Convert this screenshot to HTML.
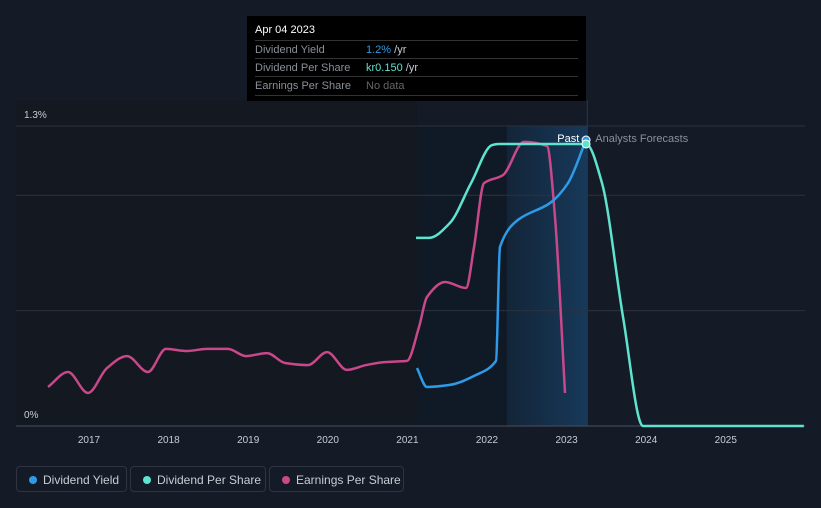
<!DOCTYPE html>
<html><head><meta charset="utf-8">
<style>
body{margin:0;background:#151b26;width:821px;height:508px;overflow:hidden;font-family:"Liberation Sans",sans-serif;}
#wrap{position:relative;width:821px;height:508px;}
svg{position:absolute;left:0;top:0;}
.tip{position:absolute;left:247px;top:16px;width:339px;height:85px;background:#000;font-size:11px;color:#8a8f98;}
.tip .row{position:absolute;left:8px;right:8px;border-top:1px solid #333;height:18px;line-height:18px;}
.legend{position:absolute;top:466px;height:26px;border:1px solid #2e3440;border-radius:4px;color:#c8ccd3;font-size:12px;line-height:26px;box-sizing:border-box;padding-left:26px;}
.legend i{position:absolute;left:12px;top:9px;width:8px;height:8px;border-radius:50%;}
</style></head><body>
<div id="wrap">
<svg id="chart" width="821" height="508"></svg>
<div class="tip">
 <div style="position:absolute;left:8px;top:8px;color:#fff;font-size:11px">Apr 04 2023</div>
 <div class="row" style="top:24px">Dividend Yield<span style="position:absolute;left:111px"><span style="color:#2d9be8">1.2%</span> <span style="color:#c8ccd3">/yr</span></span></div>
 <div class="row" style="top:42px">Dividend Per Share<span style="position:absolute;left:111px"><span style="color:#5ee3cf">kr0.150</span> <span style="color:#c8ccd3">/yr</span></span></div>
 <div class="row" style="top:60px;border-bottom:1px solid #333">Earnings Per Share<span style="position:absolute;left:111px;color:#666">No data</span></div>
</div>
<div class="legend" style="left:16px;width:111px"><i style="background:#2d9be8"></i>Dividend Yield</div>
<div class="legend" style="left:130px;width:136px"><i style="background:#5ee3cf"></i>Dividend Per Share</div>
<div class="legend" style="left:269px;width:135px"><i style="background:#c9488a"></i>Earnings Per Share</div>
</div>
<script>
const years=[2017,2018,2019,2020,2021,2022,2023,2024,2025];
const yTicks=[0,0.5,1.0,1.3];
const epsX=[2016.485,2016.736,2016.987,2017.226,2017.477,2017.741,2017.967,2018.231,2018.482,2018.746,2018.972,2019.236,2019.462,2019.751,2019.99,2020.241,2020.48,2020.719,2020.995,2021.146,2021.246,2021.472,2021.736,2021.837,2021.962,2022.201,2022.465,2022.754,2022.854,2022.98];
const epsY=[0.169,0.234,0.143,0.251,0.303,0.234,0.334,0.325,0.334,0.334,0.303,0.316,0.273,0.264,0.32,0.243,0.264,0.277,0.282,0.429,0.559,0.624,0.598,0.775,1.052,1.087,1.231,1.213,0.906,0.143];
const dpsX=[2021.108,2021.271,2021.535,2021.799,2022.063,2022.15,2023.244,2023.445,2023.709,2023.96,2025.98];
const dpsY=[0.815,0.815,0.88,1.052,1.217,1.222,1.222,1.052,0.472,0,0];
const dyX=[2021.12,2021.246,2021.535,2021.862,2022.113,2022.163,2022.389,2022.791,2023.017,2023.244];
const dyY=[0.251,0.169,0.178,0.221,0.282,0.776,0.893,0.966,1.052,1.239];
const NS='http://www.w3.org/2000/svg';
const svg=document.getElementById('chart');
const X=y=>89+(y-2017)*79.6;
const Y=v=>426-v*230.8;
function el(t,a){const e=document.createElementNS(NS,t);for(const k in a)e.setAttribute(k,a[k]);svg.appendChild(e);return e;}
function path(xs,ys){const p=xs.map((x,i)=>[X(x),Y(ys[i])]);const n=p.length;const m=[];const d=[];
for(let i=0;i<n-1;i++)d.push((p[i+1][1]-p[i][1])/(p[i+1][0]-p[i][0]));
for(let i=0;i<n;i++){if(i==0)m.push(d[0]);else if(i==n-1)m.push(d[n-2]);else m.push(d[i-1]*d[i]<=0?0:2/(1/d[i-1]+1/d[i]));}
let s='M'+p[0][0]+','+p[0][1];
for(let i=0;i<n-1;i++){const h=(p[i+1][0]-p[i][0])/3;s+=`C${p[i][0]+h},${p[i][1]+m[i]*h} ${p[i+1][0]-h},${p[i+1][1]-m[i+1]*h} ${p[i+1][0]},${p[i+1][1]}`;}
return s;}
let r=el('rect',{x:16,y:100,width:X(2021.12)-16,height:326,fill:'#131821'});

r=el('rect',{x:X(2021.12),y:126,width:X(2022.25)-X(2021.12),height:300,fill:'#101a27'});

const g=el('linearGradient',{id:'gr',x1:0,x2:1,y1:0,y2:0});
const defs=el('defs',{});defs.appendChild(g);
g.innerHTML='<stop offset="0" stop-color="#132538"/><stop offset="1" stop-color="#17395a"/>';
r=el('rect',{x:X(2022.25),y:126,width:X(2023.26)-X(2022.25),height:300,fill:'url(#gr)'});

let ln=el('line',{x1:X(2023.26),x2:X(2023.26),y1:100,y2:426,stroke:'#1e3a58','stroke-width':1});

yTicks.forEach(v=>{const l=el('line',{x1:16,x2:805,y1:Y(v),y2:Y(v),stroke:v==0?'#4a505c':'#2c323d','stroke-width':1});
});
[[0,'0%'],[1.3,'1.3%']].forEach(([v,t])=>{const e=el('text',{x:24,y:Y(v)-8,fill:'#c8ccd3','font-size':10});e.textContent=t;
});
years.forEach(yy=>{const e=el('text',{x:X(yy),y:443,fill:'#c8ccd3','font-size':10,'text-anchor':'middle'});e.textContent=yy;
});
let p=el('path',{d:path(epsX,epsY),stroke:'#c9488a','stroke-width':2.5,fill:'none'});

p=el('path',{d:path(dpsX,dpsY),stroke:'#5ee3cf','stroke-width':2.5,fill:'none'});

p=el('path',{d:path(dyX,dyY),stroke:'#2d9be8','stroke-width':2.5,fill:'none'});

let c=el('circle',{cx:X(dyX[dyX.length-1]),cy:Y(dyY[dyY.length-1]),r:4,fill:'#2d9be8',stroke:'#fff','stroke-width':1});

c=el('circle',{cx:X(2023.244),cy:Y(1.222),r:4,fill:'#5ee3cf',stroke:'#fff','stroke-width':1});

let t=el('text',{x:X(2023.26)-8,y:142,fill:'#fff','font-size':11,'text-anchor':'end'});t.textContent='Past';

t=el('text',{x:X(2023.26)+8,y:142,fill:'#8a8f98','font-size':11});t.textContent='Analysts Forecasts';

</script>
</body></html>
